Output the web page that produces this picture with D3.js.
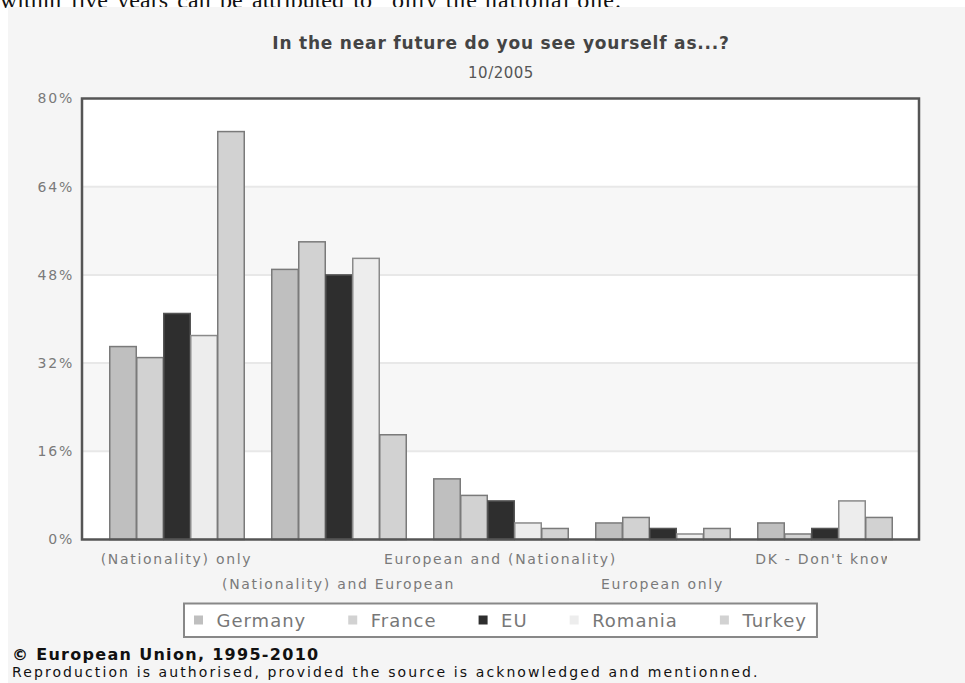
<!DOCTYPE html>
<html>
<head>
<meta charset="utf-8">
<script src="https://cdn.jsdelivr.net/npm/d3@7"></script>
<style>
  html, body { margin: 0; padding: 0; background: #ffffff; }
  svg { display: block; }
</style>
</head>
<body>
<svg id="chart" width="965" height="683"></svg>
<script>
// Survey answers, October 2005 (percent)
const categories = [
  "(Nationality) only",
  "(Nationality) and European",
  "European and (Nationality)",
  "European only",
  "DK - Don't know"
];
const seriesNames = ["Germany", "France", "EU", "Romania", "Turkey"];
const germany = [35, 49, 11, 3, 3];
const france  = [33, 54, 8, 4, 1];
const eu      = [41, 48, 7, 2, 2];
const romania = [37, 51, 3, 1, 7];
const turkey  = [74, 19, 2, 2, 4];
const yTicks  = [0, 16, 32, 48, 64, 80];

const seriesValues = [germany, france, eu, romania, turkey];
const fills   = ["#bfbfbf", "#d2d2d2", "#2e2e2e", "#ededed", "#d2d2d2"];
const strokes = ["#7a7a7a", "#7a7a7a", "#555555", "#8a8a8a", "#7a7a7a"];

const svg = d3.select("#chart");
const sans = "DejaVu Sans, Verdana, sans-serif";

// page text fragment above the chart panel (justified line, lower part visible)
const lead = svg.append("text")
  .attr("x", 0).attr("y", 8)
  .attr("font-family", "Liberation Serif, serif")
  .attr("font-size", 24)
  .attr("fill", "#111")
  .text("within five years can be attributed to");
const leadWidth = lead.node().getComputedTextLength();
lead.attr("word-spacing", Math.max(0, (372 - leadWidth) / 6));
svg.append("text")
  .attr("x", 392).attr("y", 8)
  .attr("font-family", "Liberation Serif, serif")
  .attr("font-size", 24)
  .attr("letter-spacing", 1)
  .attr("fill", "#111")
  .text("only the national one.");

// chart panel
svg.append("rect")
  .attr("x", 8).attr("y", 7)
  .attr("width", 965 - 8).attr("height", 683 - 7)
  .attr("fill", "#f5f5f5");

const plot = { left: 82, right: 919, top: 98.5, bottom: 539.5 };

const x = d3.scaleBand()
  .domain(categories)
  .range([plot.left, plot.right])
  .paddingInner(1 / 6)
  .paddingOuter(1 / 6);

const xs = d3.scaleBand()
  .domain(seriesNames)
  .range([0, x.bandwidth()]);

const y = d3.scaleLinear()
  .domain([0, 80])
  .range([plot.bottom, plot.top]);

// title
svg.append("text")
  .attr("x", 501).attr("y", 49)
  .attr("text-anchor", "middle")
  .attr("font-family", sans)
  .attr("font-weight", "bold")
  .attr("font-size", 17)
  .attr("letter-spacing", 0.8)
  .attr("fill", "#444")
  .text("In the near future do you see yourself as...?");
svg.append("text")
  .attr("x", 501).attr("y", 78)
  .attr("text-anchor", "middle")
  .attr("font-family", sans)
  .attr("font-size", 15)
  .attr("letter-spacing", 0.5)
  .attr("fill", "#555")
  .text("10/2005");

// plot background with alternating bands
svg.append("rect")
  .attr("x", plot.left).attr("y", plot.top)
  .attr("width", plot.right - plot.left).attr("height", plot.bottom - plot.top)
  .attr("fill", "#ffffff");

const bands = d3.pairs(yTicks).filter((d, i) => i % 2 === 1);
svg.append("g").selectAll("rect")
  .data(bands)
  .join("rect")
  .attr("x", plot.left).attr("width", plot.right - plot.left)
  .attr("y", d => y(d[1])).attr("height", d => y(d[0]) - y(d[1]))
  .attr("fill", "#f7f7f7");

// gridlines
svg.append("g").selectAll("line")
  .data(yTicks.slice(1, -1))
  .join("line")
  .attr("x1", plot.left).attr("x2", plot.right)
  .attr("y1", d => y(d)).attr("y2", d => y(d))
  .attr("stroke", "#e8e8e8")
  .attr("stroke-width", 2);

// y axis labels
const yAxis = d3.axisLeft(y)
  .tickValues(yTicks)
  .tickFormat(d => d + "%")
  .tickSize(0)
  .tickPadding(8);
const yg = svg.append("g")
  .attr("transform", `translate(${plot.left},0)`)
  .call(yAxis);
yg.select(".domain").remove();
yg.selectAll("text")
  .attr("font-family", sans)
  .attr("font-size", 14)
  .attr("letter-spacing", 1.8)
  .attr("fill", "#7a7a7a");

// bars
const groups = svg.append("g").selectAll("g")
  .data(categories)
  .join("g")
  .attr("transform", d => `translate(${x(d)},0)`);

groups.selectAll("rect")
  .data((c, ci) => seriesNames.map((s, si) => ({ s, si, v: seriesValues[si][ci] })))
  .join("rect")
  .attr("x", d => xs(d.s) + 0.75)
  .attr("width", xs.bandwidth() - 0.5)
  .attr("y", d => y(d.v))
  .attr("height", d => y(0) - y(d.v))
  .attr("fill", d => fills[d.si])
  .attr("stroke", d => strokes[d.si])
  .attr("stroke-width", 1.5);

// frame
svg.append("rect")
  .attr("x", plot.left).attr("y", plot.top)
  .attr("width", plot.right - plot.left).attr("height", plot.bottom - plot.top)
  .attr("fill", "none")
  .attr("stroke", "#555")
  .attr("stroke-width", 2.5);

// x axis labels, staggered on two rows, clipped at the right
svg.append("clipPath").attr("id", "xclip")
  .append("rect").attr("x", 0).attr("y", 541).attr("width", 887).attr("height", 60);

const xAxis = d3.axisBottom(x).tickSize(0).tickPadding(0);
const xg = svg.append("g")
  .attr("clip-path", "url(#xclip)")
  .append("g")
  .attr("transform", `translate(0,${plot.bottom})`)
  .call(xAxis);
xg.select(".domain").remove();
xg.selectAll("text")
  .attr("font-family", sans)
  .attr("font-size", 14)
  .attr("letter-spacing", 1.7)
  .attr("fill", "#7a7a7a")
  .attr("dy", null)
  .attr("y", (d, i) => i % 2 === 0 ? 24 : 49);

// legend
const legend = svg.append("g");
const legendBox = legend.append("rect")
  .attr("fill", "#ffffff")
  .attr("stroke", "#888")
  .attr("stroke-width", 2);
let lx = 194;
seriesNames.forEach((name, i) => {
  legend.append("rect")
    .attr("x", lx).attr("y", 615.5)
    .attr("width", 9).attr("height", 9)
    .attr("fill", fills[i]);
  const t = legend.append("text")
    .attr("x", lx + 22.5).attr("y", 626.5)
    .attr("font-family", sans)
    .attr("font-size", 18)
    .attr("letter-spacing", 1)
    .attr("fill", "#777")
    .text(name);
  lx += 22.5 + t.node().getComputedTextLength() + 42;
});
legendBox
  .attr("x", 184).attr("y", 603.5)
  .attr("width", lx - 42 + 10 - 184).attr("height", 33.5);

// footer
svg.append("text")
  .attr("x", 12).attr("y", 660)
  .attr("font-family", sans)
  .attr("font-weight", "bold")
  .attr("font-size", 16)
  .attr("letter-spacing", 1.3)
  .attr("fill", "#111")
  .text("© European Union, 1995-2010");
svg.append("text")
  .attr("x", 12).attr("y", 677)
  .attr("font-family", sans)
  .attr("font-size", 14)
  .attr("letter-spacing", 2.1)
  .attr("fill", "#111")
  .text("Reproduction is authorised, provided the source is acknowledged and mentionned.");
</script>
</body>
</html>
